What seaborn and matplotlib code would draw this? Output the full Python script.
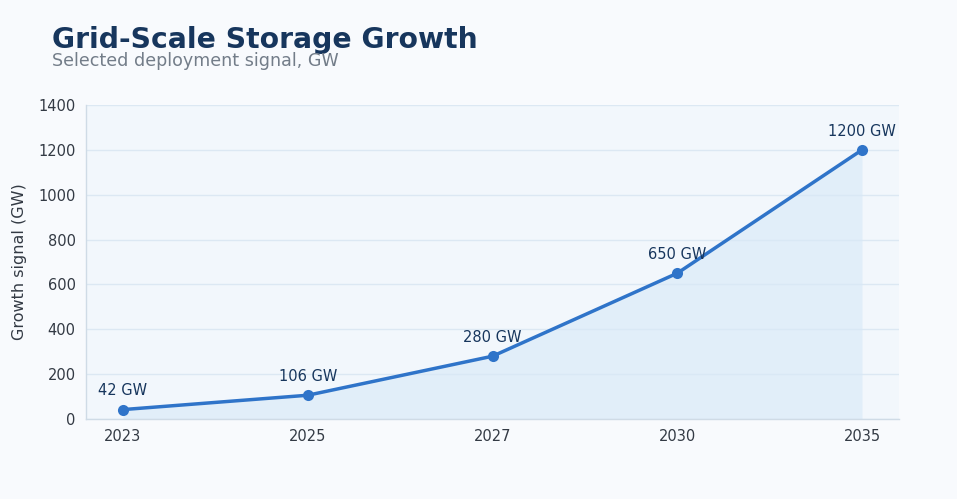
import matplotlib
matplotlib.use("Agg")
import matplotlib.pyplot as plt
import seaborn as sns
import pandas as pd

years = ["2023", "2025", "2027", "2030", "2035"]
capacity_gw = [42, 106, 280, 650, 1200]
point_labels = ["42 GW", "106 GW", "280 GW", "650 GW", "1200 GW"]

LINE = "#2f74c9"
NAVY = "#17365d"

df = pd.DataFrame({"year": years, "gw": capacity_gw})
df["pos"] = range(len(df))

sns.set_theme(style="white")
plt.rcParams["font.family"] = ["DejaVu Sans"]

fig = plt.figure(figsize=(9.57, 4.99), dpi=100, facecolor="#f8fafd")
ax = fig.add_axes([0.0899, 0.1603, 0.8495, 0.6293])
ax.set_facecolor("#f2f7fc")

ax.fill_between(df["pos"], df["gw"], 0, color="#d7e8f7", alpha=0.6, linewidth=0, zorder=1)
sns.lineplot(data=df, x="pos", y="gw", ax=ax, color=LINE, linewidth=2.5,
             marker="o", markersize=8, markeredgewidth=0, zorder=3)

for x, y, lab in zip(df["pos"], df["gw"], point_labels):
    ax.annotate(lab, (x, y), xytext=(0, 8), textcoords="offset points",
                ha="center", va="bottom", fontsize=10.5, color=NAVY)

ax.set_xlim(-0.2, 4.2)
ax.set_ylim(0, 1400)
ax.set_xticks(df["pos"])
ax.set_xticklabels(years)
ax.set_yticks(range(0, 1401, 200))
ax.yaxis.grid(True, color="#dce8f3", linewidth=1)
ax.set_axisbelow(True)
ax.tick_params(axis="both", labelsize=10.5, colors="#333a44", length=4, width=0.8)
ax.tick_params(axis="both", color="#9aa5b1")
ax.set_xlabel("")
ax.set_ylabel("Growth signal (GW)", fontsize=11.5, color="#333a44", labelpad=8)

for side in ["top", "right"]:
    ax.spines[side].set_visible(False)
for side in ["left", "bottom"]:
    ax.spines[side].set_color("#cfdbe6")
    ax.spines[side].set_linewidth(1)

fig.text(0.054, 0.92, "Grid-Scale Storage Growth", fontsize=20.3, fontweight="bold",
         color=NAVY, va="center")
fig.text(0.054, 0.877, "Selected deployment signal, GW", fontsize=12.6,
         color="#737d89", va="center")

fig.savefig("out.png", dpi=100, facecolor=fig.get_facecolor())
